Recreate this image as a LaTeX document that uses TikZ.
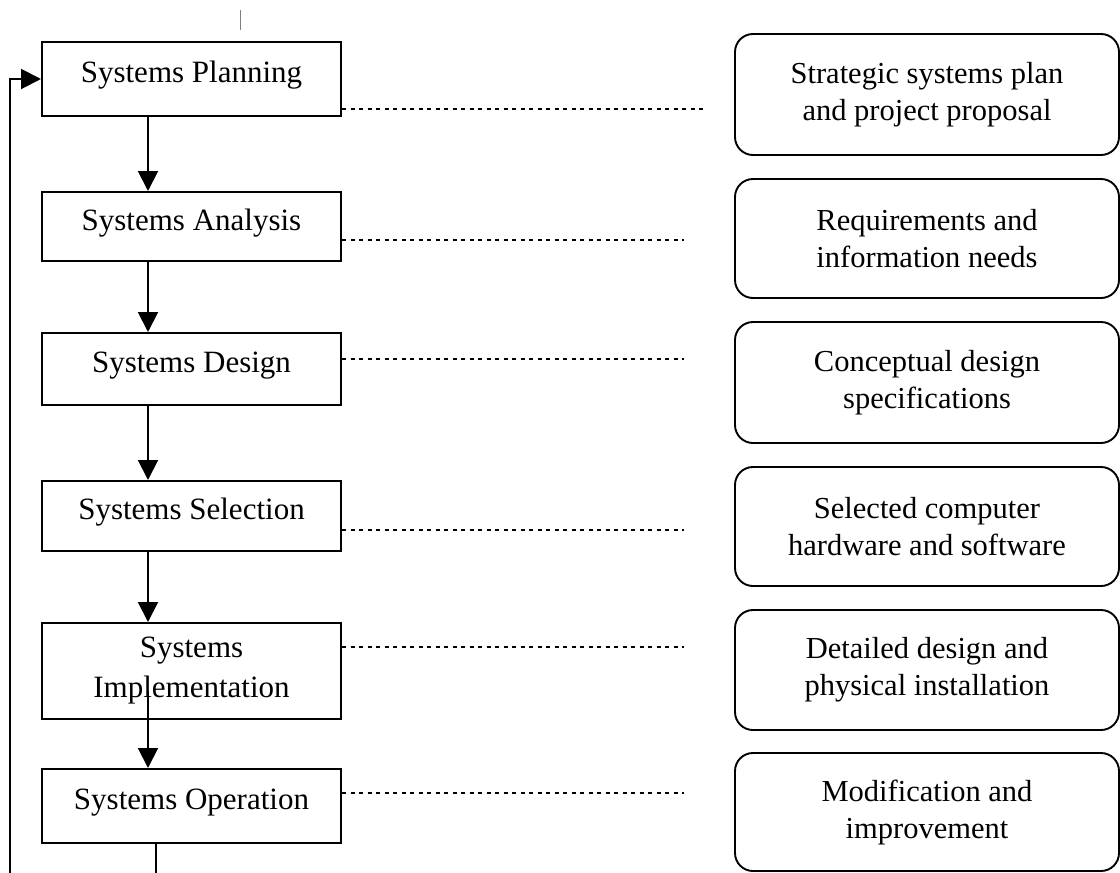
\documentclass[tikz,border=0pt]{standalone}
\usepackage{fontspec}
\setmainfont{Liberation Serif}
\usetikzlibrary{arrows.meta}
\begin{document}
\begin{tikzpicture}[x=1pt,y=-1pt,
  stage/.style={draw, line width=2pt, rectangle, minimum width=299pt, inner sep=0pt, font=\fontsize{31}{40}\selectfont, align=center},
  one/.style={text height=20pt, text depth=13pt},
  outp/.style={draw, line width=1.9pt, rounded corners=18pt, minimum width=384pt, inner sep=0pt, font=\fontsize{30.5}{37}\selectfont, align=center},
  flow/.style={line width=2pt, -{Triangle[length=20pt,width=20pt]}},
  link/.style={line width=1.7pt, dash pattern=on 4pt off 4.5pt},
]
\useasboundingbox (0,0) rectangle (1120,873);

% stages
\node[stage, one, minimum height=74pt] (P) at (191.5,79) {Systems Planning};
\node[stage, one, minimum height=69pt] (A) at (191.5,226.5) {Systems Analysis};
\node[stage, one, minimum height=72pt] (D) at (191.5,369) {Systems Design};
\node[stage, one, minimum height=70pt] (S) at (191.5,516) {Systems Selection};
\node[stage, minimum height=96pt] (I) at (191.5,671) {Systems\\Implementation};
\node[stage, one, minimum height=74pt] (O) at (191.5,806) {Systems Operation};

% outputs
\node[outp, minimum height=121pt] (R1) at (927,94.5) {Strategic systems plan\\and project proposal};
\node[outp, minimum height=119pt] (R2) at (927,238.5) {Requirements and\\information needs};
\node[outp, minimum height=121pt] (R3) at (927,382.5) {Conceptual design\\specifications};
\node[outp, minimum height=119pt] (R4) at (927,526.5) {Selected computer\\hardware and software};
\node[outp, minimum height=120pt] (R5) at (927,670) {Detailed design and\\physical installation};
\node[outp, minimum height=118pt] (R6) at (927,812) {Modification and\\improvement};

% helper coordinates
\coordinate (ax) at (148,0);
\coordinate (ob) at (156,873);
\coordinate (fb) at (10,873);
\coordinate (tkA) at (240,10);
\coordinate (tkB) at (240,30);
\coordinate (Pe) at (707,109);
\coordinate (Ae) at (684,240);
\coordinate (De) at (684,359);
\coordinate (Se) at (684,530);
\coordinate (Ie) at (684,647);
\coordinate (Oe) at (684,793);

% flow arrows
\draw[flow] (P.south -| ax) -- (A.north -| ax);
\draw[flow] (A.south -| ax) -- (D.north -| ax);
\draw[flow] (D.south -| ax) -- (S.north -| ax);
\draw[flow] (S.south -| ax) -- (I.north -| ax);
\draw[flow] ([yshift=29pt]I.south -| ax) -- (O.north -| ax);
\draw[line width=2pt] (O.south -| ob) -- (ob);
\draw[flow] (fb) |- (P.west);

% dotted links
\draw[link] (P.east |- Pe) -- (Pe);
\draw[link] (A.east |- Ae) -- (Ae);
\draw[link] (D.east |- De) -- (De);
\draw[link] (S.east |- Se) -- (Se);
\draw[link] (I.east |- Ie) -- (Ie);
\draw[link] (O.east |- Oe) -- (Oe);

% small tick at top
\draw[line width=0.8pt, gray] (tkA) -- (tkB);
\end{tikzpicture}
\end{document}
